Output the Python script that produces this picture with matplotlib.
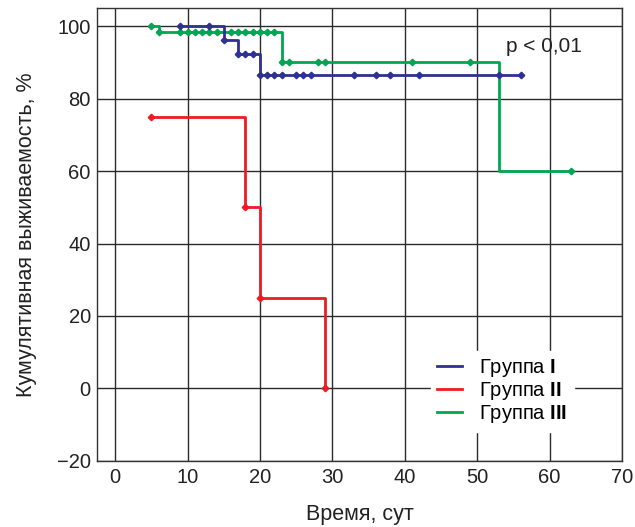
import numpy as np
import matplotlib
matplotlib.use('Agg')
import matplotlib.pyplot as plt

plt.rcParams['font.family'] = ['Liberation Sans', 'DejaVu Sans']
plt.rcParams['mathtext.fontset'] = 'custom'
plt.rcParams['mathtext.rm'] = 'Liberation Sans'
plt.rcParams['mathtext.bf'] = 'Liberation Sans:bold'

# Кривые выживаемости (время, сут -> %)
t1 = [9, 15, 17, 20, 56]
s1 = [100, 96.3, 92.4, 86.6, 86.6]
c1 = [9, 13, 15, 17, 18, 19, 20, 21, 22, 23, 25, 26, 27, 33, 36, 38, 42, 53, 56]

t2 = [5, 18, 20, 29]
s2 = [75, 50, 25, 0]
c2 = [5, 18, 20, 29]

t3 = [5, 6, 23, 53, 63]
s3 = [100, 98.4, 90.2, 60, 60]
c3 = [5, 6, 9, 10, 11, 12, 13, 14, 16, 17, 18, 19, 20, 21, 22, 23, 24, 28, 29, 41, 49, 63]

labels = ['Группа $\\mathbf{I}$', 'Группа $\\mathbf{II}$', 'Группа $\\mathbf{III}$']
colors = ['#2e3192', '#ed1c24', '#00a651']


def level(t, s, x):
    idx = np.searchsorted(t, x, side='right') - 1
    return np.array(s)[idx]


fig = plt.figure(figsize=(6.35, 5.27), dpi=100)
ax = fig.add_axes([0.1528, 0.1258, 0.8267, 0.8584])

handles = {}
for i in [2, 1, 0]:
    t, s, c = [(t1, s1, c1), (t2, s2, c2), (t3, s3, c3)][i]
    h, = ax.step(t, s, where='post', color=colors[i], lw=2, label=labels[i], zorder=3)
    ax.plot(c, level(t, s, c), ls='none', marker='D', ms=3.3, color=colors[i], zorder=4)
    handles[i] = h

ax.set_xlim(-2.5, 70)
ax.set_ylim(-20, 105)
ax.set_xticks(range(0, 71, 10))
ax.set_yticks(range(-20, 101, 20))
ax.set_yticklabels(['\u221220', '0', '20', '40', '60', '80', '100'])
ax.grid(color='#2b2b2b', lw=1, zorder=1)
ax.tick_params(length=0, labelsize=14.5, colors='#222222')
ax.tick_params(axis='x', pad=5.5)
ax.tick_params(axis='y', pad=4.5)
for sp in ax.spines.values():
    sp.set_color('#333333')
    sp.set_linewidth(1)

ax.set_xlabel('Время, сут', fontsize=15.5, labelpad=12, color='#222222')
ax.set_ylabel('Кумулятивная выживаемость, %', fontsize=15.5, labelpad=14, color='#222222')

ax.text(54, 94.5, 'p < 0,01', fontsize=15, va='center', ha='left', color='#222222')

leg = ax.legend([handles[0], handles[1], handles[2]], labels, loc='center',
                bbox_to_anchor=(0.772, 0.153), fontsize=14.5, frameon=True,
                fancybox=False, edgecolor='white', facecolor='white', framealpha=1,
                handlelength=1.25, handletextpad=0.85, labelspacing=0.05,
                borderpad=0.3)
leg.set_zorder(5)

fig.savefig('out.png', dpi=100)
